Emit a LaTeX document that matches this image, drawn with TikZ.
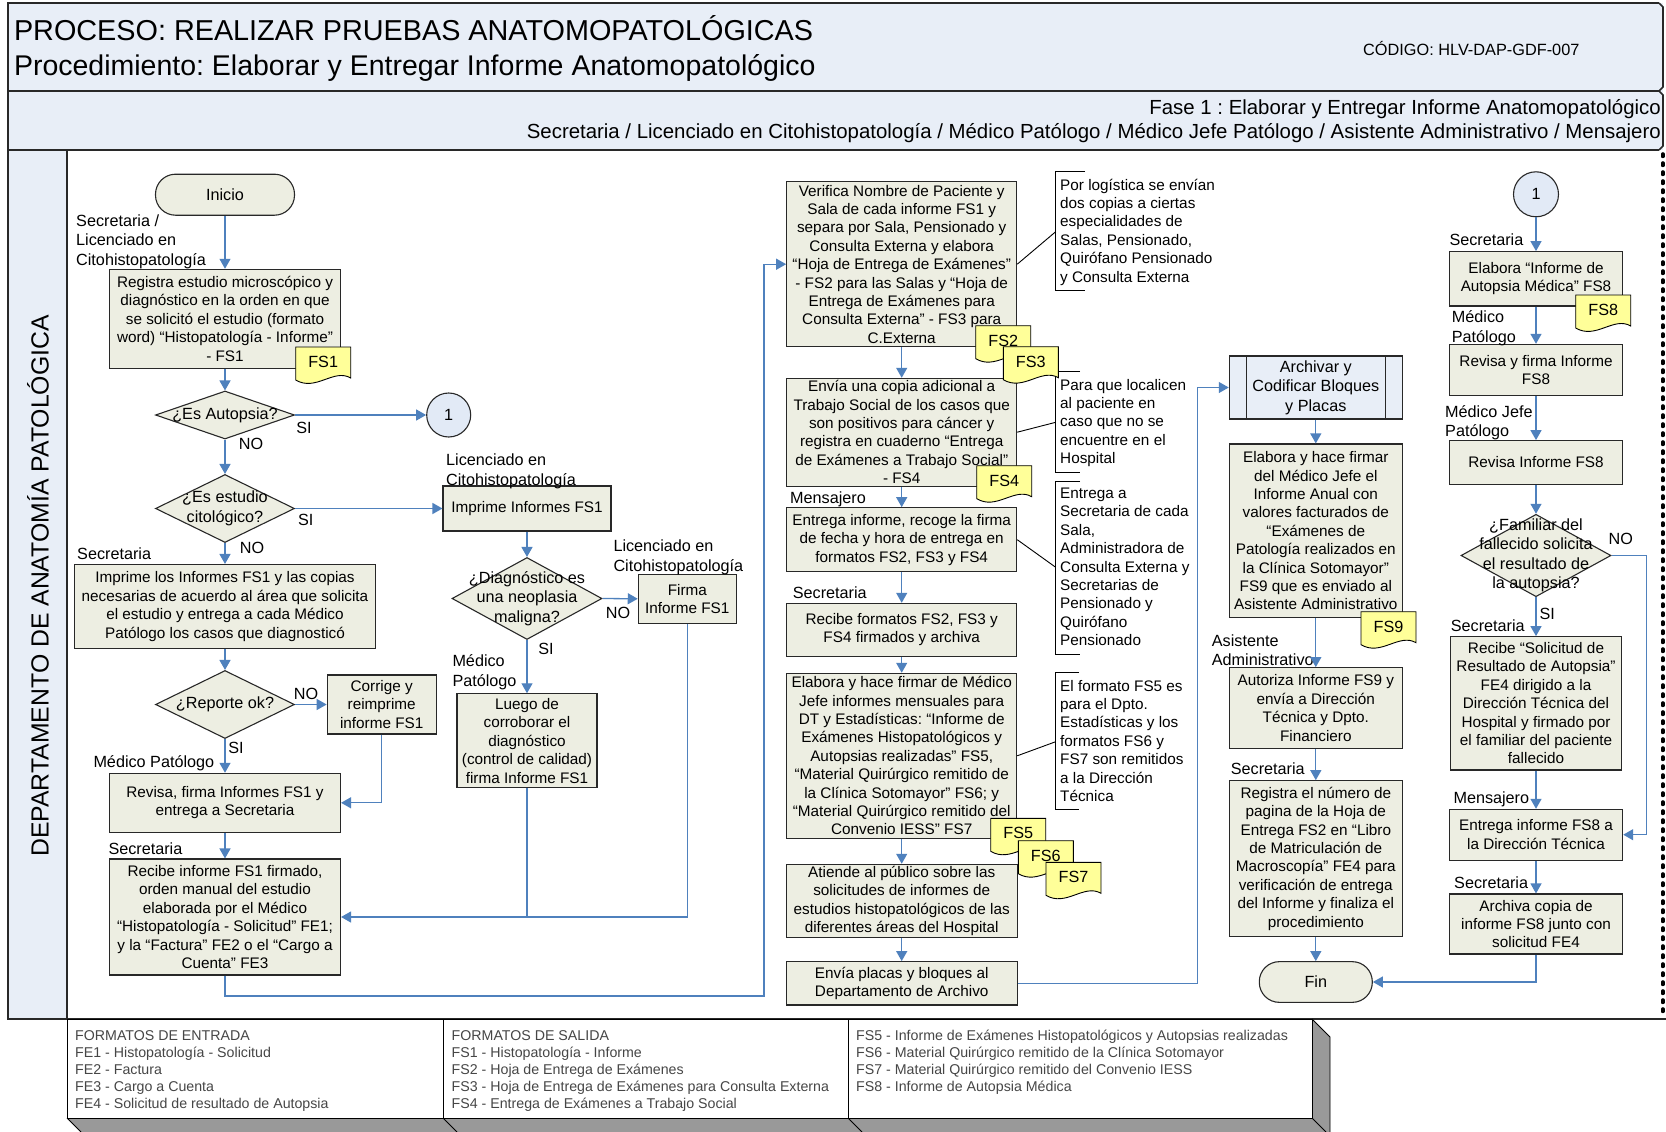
\documentclass[tikz,border=0pt]{standalone}
\usepackage{fontspec}
\setmainfont{Liberation Sans}
\usetikzlibrary{shapes.geometric,arrows.meta,calc}
\frenchspacing

\definecolor{boxfill}{RGB}{237,238,226}
\definecolor{hdrfill}{RGB}{232,238,247}
\definecolor{connfill}{RGB}{226,234,246}
\definecolor{flowblue}{RGB}{79,129,189}
\definecolor{docyellow}{RGB}{255,255,153}
\definecolor{legtext}{RGB}{70,70,70}
\definecolor{legside}{RGB}{153,153,153}
\definecolor{edgegrey}{RGB}{40,40,40}

\newcommand{\fbody}{\fontsize{15.3}{18.4}\selectfont}
\newcommand{\flab}{\fontsize{16.2}{19.5}\selectfont}
\newcommand{\fleg}{\fontsize{14.2}{17}\selectfont}

% document symbol: name, left x, top y, label
\newcommand{\docshape}[4]{%
  \filldraw[docline] (#2,#3) -- ($(#2,#3)+(55,0)$) -- ($(#2,#3)+(55,31)$)
    .. controls ($(#2,#3)+(38,21)$) and ($(#2,#3)+(20,45)$) .. ($(#2,#3)+(0,33)$) -- cycle;
  \node[doctext] (#1) at ($(#2,#3)+(27.5,15)$) {#4};}

\tikzset{
  box/.style={draw=edgegrey, fill=boxfill, line width=1.1pt, align=center, inner sep=0pt, font=\fbody},
  term/.style={box, rounded corners=20pt, font=\flab},
  decision/.style={draw=edgegrey, fill=boxfill, line width=1.1pt, diamond, inner sep=0pt},
  dtext/.style={align=center, font=\flab, inner sep=0pt},
  conncirc/.style={circle, draw=edgegrey, fill=connfill, line width=1.1pt, minimum size=44pt, inner sep=0pt, font=\flab},
  role/.style={anchor=north west, align=left, inner sep=0pt, font=\flab},
  notetxt/.style={anchor=north west, align=left, inner sep=0pt, font=\fbody},
  branch/.style={inner sep=0pt, font=\flab, text height=11.6pt, text depth=0pt},
  flow/.style={draw=flowblue, line width=1.3pt, -{Triangle[length=10pt,width=11pt]}},
  plainflow/.style={draw=flowblue, line width=1.3pt},
  bracket/.style={draw=black, line width=0.9pt},
  docline/.style={draw=black, fill=docyellow, line width=0.9pt},
  doctext/.style={font=\flab, inner sep=0pt},
  legtxt/.style={anchor=north west, align=left, inner sep=0pt, font=\fleg, text=legtext},
  frame/.style={draw=edgegrey, line width=1.6pt},
}

\begin{document}
\begin{tikzpicture}[x=1pt,y=-1pt]
\useasboundingbox (0,0) rectangle (1666,1132);
\fill[white] (0,0) rectangle (1666,1132);

% ---------- header and swimlane frame ----------
\fill[hdrfill] (8,3) rectangle (1663,150);
\fill[hdrfill] (8,150) rectangle (67,1019);
\draw[frame] (1659,3) -- (8,3) -- (8,1019) -- (1666,1019);
\draw[frame] (1659,3) -- (1663,7) -- (1663,87) -- (1659,91);
\draw[frame] (8,91) -- (1659,91) -- (1663,95) -- (1663,146) -- (1659,150);
\draw[frame] (8,150) -- (1659,150);
\draw[frame] (67,150) -- (67,1019);
\draw[line width=3.6pt, dash pattern=on 2.4pt off 6.6pt, line cap=round] (1662.7,154) -- (1662.7,1017);

\node[anchor=base west, inner sep=0pt, font=\fontsize{28.8}{34}\selectfont] (title) at (13.8,40.5) {PROCESO: REALIZAR PRUEBAS ANATOMOPATOLÓGICAS};
\node[anchor=base west, inner sep=0pt, font=\fontsize{28.5}{34}\selectfont] (subtitle) at (13.8,75) {Procedimiento: Elaborar y Entregar Informe Anatomopatológico};
\node[anchor=base west, inner sep=0pt, font=\fontsize{16.3}{19}\selectfont] (code) at (1363,56) {CÓDIGO: HLV-DAP-GDF-007};
\node[anchor=base east, inner sep=0pt, font=\fontsize{20.4}{24}\selectfont] (phase) at (1661,114) {Fase 1 : Elaborar y Entregar Informe Anatomopatológico};
\node[anchor=base east, inner sep=0pt, font=\fontsize{20.4}{24}\selectfont] (actors) at (1661,139) {Secretaria / Licenciado en Citohistopatología / Médico Patólogo / Médico Jefe Patólogo / Asistente Administrativo / Mensajero};
\node[rotate=90, inner sep=0pt, font=\fontsize{24.8}{29}\selectfont] (dept) at (38,586) {DEPARTAMENTO DE ANATOMÍA PATOLÓGICA};

% ---------- first column ----------
\node[term, minimum width=139pt, minimum height=41pt] (inicio) at (225,194.7) {Inicio};
\node[box, minimum width=231pt, minimum height=99pt] (reg) at (225,318.8) {Registra estudio microscópico y\\diagnóstico en la orden en que\\se solicitó el estudio (formato\\word) “Histopatología - Informe”\\- FS1};
\node[decision, minimum width=139pt, minimum height=48pt] (d1) at (225,415) {};
\node[dtext] (d1t) at (d1) {¿Es Autopsia?};
\node[conncirc] (c1) at (448.7,415) {1};
\node[decision, minimum width=139pt, minimum height=68pt] (d2) at (225,508.5) {};
\node[dtext] (d2t) at (d2) {¿Es estudio\\citológico?};
\node[box, minimum width=301pt, minimum height=84pt] (impr) at (225,606.5) {Imprime los Informes FS1 y las copias\\necesarias de acuerdo al área que solicita\\el estudio y entrega a cada Médico\\Patólogo los casos que diagnosticó};
\node[decision, minimum width=139pt, minimum height=68pt] (d3) at (225,704.5) {};
\node[dtext] (d3t) at (d3) {¿Reporte ok?};
\node[box, minimum width=109pt, minimum height=59pt] (corr) at (381.7,704.5) {Corrige y\\reimprime\\informe FS1};
\node[box, minimum width=231pt, minimum height=59pt] (rev) at (225,802.8) {Revisa, firma Informes FS1 y\\entrega a Secretaria};
\node[box, minimum width=231pt, minimum height=116pt] (rec) at (225,917) {Recibe informe FS1 firmado,\\orden manual del estudio\\elaborada por el Médico\\“Histopatología - Solicitud” FE1;\\y la “Factura” FE2 o el “Cargo a\\Cuenta” FE3};

% ---------- second column ----------
\node[box, minimum width=168pt, minimum height=45pt] (impfs) at (527,508.5) {Imprime Informes FS1};
\node[decision, minimum width=150pt, minimum height=82pt] (d4) at (527,598.5) {};
\node[dtext] (d4t) at (d4) {¿Diagnóstico es\\una neoplasia\\maligna?};
\node[box, minimum width=98pt, minimum height=49pt] (firma) at (687.3,598.8) {Firma\\Informe FS1};
\node[box, minimum width=140pt, minimum height=94pt] (luego) at (527,740.8) {Luego de\\corroborar el\\diagnóstico\\(control de calidad)\\firma Informe FS1};

% ---------- third column ----------
\node[box, minimum width=230pt, minimum height=165pt] (ver) at (901.7,264.2) {Verifica Nombre de Paciente y\\Sala de cada informe FS1 y\\separa por Sala, Pensionado y\\Consulta Externa y elabora\\“Hoja de Entrega de Exámenes”\\- FS2 para las Salas y “Hoja de\\Entrega de Exámenes para\\Consulta Externa” - FS3 para\\C.Externa};
\node[box, minimum width=230pt, minimum height=107.7pt] (env) at (901.7,432.2) {Envía una copia adicional a\\Trabajo Social de los casos que\\son positivos para cáncer y\\registra en cuaderno “Entrega\\de Exámenes a Trabajo Social”\\- FS4};
\node[box, minimum width=230pt, minimum height=64pt] (ent) at (901.7,539.7) {Entrega informe, recoge la firma\\de fecha y hora de entrega en\\formatos FS2, FS3 y FS4};
\node[box, minimum width=230pt, minimum height=52.7pt] (recf) at (901.7,629.7) {Recibe formatos FS2, FS3 y\\FS4 firmados y archiva};
\node[box, minimum width=230pt, minimum height=165pt] (elab) at (901.7,755.8) {Elabora y hace firmar de Médico\\Jefe informes mensuales para\\DT y Estadísticas: “Informe de\\Exámenes Histopatológicos y\\Autopsias realizadas” FS5,\\“Material Quirúrgico remitido de\\la Clínica Sotomayor” FS6; y\\“Material Quirúrgico remitido del\\Convenio IESS” FS7};
\node[box, minimum width=231pt, minimum height=73pt] (aten) at (901.7,900.8) {Atiende al público sobre las\\solicitudes de informes de\\estudios histopatológicos de las\\diferentes áreas del Hospital};
\node[box, minimum width=231pt, minimum height=43.3pt] (envp) at (901.7,983.3) {Envía placas y bloques al\\Departamento de Archivo};

% ---------- annotations ----------
\node[notetxt] (n1) at (1060,177.1) {\strut Por logística se envían\\dos copias a ciertas\\especialidades de\\Salas, Pensionado,\\Quirófano Pensionado\\y Consulta Externa};
\node[notetxt] (n2) at (1060,377.1) {\strut Para que localicen\\al paciente en\\caso que no se\\encuentre en el\\Hospital};
\node[notetxt] (n3) at (1060,485.4) {\strut Entrega a\\Secretaria de cada\\Sala,\\Administradora de\\Consulta Externa y\\Secretarias de\\Pensionado y\\Quirófano\\Pensionado};
\node[notetxt] (n4) at (1060,678.1) {\strut El formato FS5 es\\para el Dpto.\\Estadísticas y los\\formatos FS6 y\\FS7 son remitidos\\a la Dirección\\Técnica};
\draw[bracket] (1085,171.7) -- (1055.7,171.7) -- (1055.7,290) -- (1085,290);
\draw[bracket] (1080,371.7) -- (1055.7,371.7) -- (1055.7,472.3) -- (1080,472.3);
\draw[bracket] (1080,481) -- (1055.7,481) -- (1055.7,654.3) -- (1080,654.3);
\draw[bracket] (1079,672.7) -- (1055.7,672.7) -- (1055.7,809.3) -- (1079,809.3);
\coordinate (n1a) at (1055.7,231.7);
\coordinate (n2a) at (1055.7,422.3);
\coordinate (n3a) at (1055.7,567.3);
\coordinate (n4a) at (1055.7,741.7);
\draw[bracket] (ver.east) -- (n1a);
\draw[bracket] (env.east) -- (n2a);
\draw[bracket] (ent.east) -- (n3a);
\draw[bracket] (elab.east) -- (n4a);

% ---------- fourth column ----------
\node[box, fill=hdrfill, font=\flab, minimum width=173pt, minimum height=63pt] (arch) at (1315.8,387.5) {Archivar y\\Codificar Bloques\\y Placas};
\draw[draw=edgegrey, line width=1.1pt] ($(arch.north west)+(17.4,0)$) -- ($(arch.south west)+(17.4,0)$);
\draw[draw=edgegrey, line width=1.1pt] ($(arch.north east)+(-17.3,0)$) -- ($(arch.south east)+(-17.3,0)$);
\node[box, minimum width=173pt, minimum height=173.7pt] (elan) at (1315.8,530.8) {Elabora y hace firmar\\del Médico Jefe el\\Informe Anual con\\valores facturados de\\“Exámenes de\\Patología realizados en\\la Clínica Sotomayor”\\FS9 que es enviado al\\Asistente Administrativo};
\node[box, minimum width=173pt, minimum height=80.7pt] (aut) at (1315.8,708) {Autoriza Informe FS9 y\\envía a Dirección\\Técnica y Dpto.\\Financiero};
\node[box, minimum width=173pt, minimum height=156pt] (regn) at (1315.8,858.7) {Registra el número de\\pagina de la Hoja de\\Entrega FS2 en “Libro\\de Matriculación de\\Macroscopía” FE4 para\\verificación de entrega\\del Informe y finaliza el\\procedimiento};
\node[term, minimum width=113pt, minimum height=40.7pt] (fin) at (1315.8,982) {Fin};

% ---------- fifth column ----------
\node[conncirc, minimum size=45pt] (c2) at (1536,194.3) {1};
\node[box, minimum width=173.3pt, minimum height=54.3pt] (eia) at (1536,278.8) {Elabora “Informe de\\Autopsia Médica” FS8};
\node[box, minimum width=173.3pt, minimum height=51.3pt] (ryf) at (1536,370) {Revisa y firma Informe\\FS8};
\node[box, minimum width=173.3pt, minimum height=43.7pt] (rif) at (1536,462.5) {Revisa Informe FS8};
\node[decision, minimum width=150pt, minimum height=82.4pt] (d5) at (1536,555.5) {};
\node[dtext] (d5t) at (d5) {¿Familiar del\\fallecido solicita\\el resultado de\\la autopsia?};
\node[box, minimum width=171pt, minimum height=133.3pt] (rsol) at (1536,703.3) {Recibe “Solicitud de\\Resultado de Autopsia”\\FE4 dirigido a la\\Dirección Técnica del\\Hospital y firmado por\\el familiar del paciente\\fallecido};
\node[box, minimum width=173.3pt, minimum height=50.7pt] (efs8) at (1536,834.7) {Entrega informe FS8 a\\la Dirección Técnica};
\node[box, minimum width=173.3pt, minimum height=60pt] (arc) at (1536,924) {Archiva copia de\\informe FS8 junto con\\solicitud FE4};

% ---------- document symbols ----------
\docshape{fs1}{295.7}{347}{FS1}
\docshape{fs2}{975.7}{325.7}{FS2}
\docshape{fs3}{1003.3}{346.7}{FS3}
\docshape{fs4}{976.7}{465.7}{FS4}
\docshape{fs5}{990.7}{818.3}{FS5}
\docshape{fs6}{1018.3}{840.7}{FS6}
\docshape{fs7}{1046}{862.3}{FS7}
\docshape{fs8}{1575.7}{295}{FS8}
\docshape{fs9}{1361}{611.7}{FS9}

% ---------- role labels ----------
\node[role] (r1) at (76,212.4) {\strut Secretaria /\\Licenciado en\\Citohistopatología};
\node[role] (r2) at (446,451.7) {\strut Licenciado en\\Citohistopatología};
\node[role] (r3) at (77,545.7) {\strut Secretaria};
\node[role] (r4) at (613.3,537.7) {\strut Licenciado en\\Citohistopatología};
\node[role] (r5) at (452.3,653) {\strut Médico\\Patólogo};
\node[role] (r6) at (93.3,753.4) {\strut Médico Patólogo};
\node[role] (r7) at (108.3,841) {\strut Secretaria};
\node[role] (r8) at (790,489.4) {\strut Mensajero};
\node[role] (r9) at (792.7,585) {\strut Secretaria};
\node[role] (r10) at (1211.7,632.4) {\strut Asistente\\Administrativo};
\node[role] (r11) at (1230.7,761) {\strut Secretaria};
\node[role] (r12) at (1449.3,231.7) {\strut Secretaria};
\node[role] (r13) at (1451.7,309) {\strut Médico\\Patólogo};
\node[role] (r14) at (1445,403.4) {\strut Médico Jefe\\Patólogo};
\node[role] (r15) at (1450.7,617.7) {\strut Secretaria};
\node[role] (r16) at (1453.3,790) {\strut Mensajero};
\node[role] (r17) at (1454,874.4) {\strut Secretaria};

% ---------- connectors ----------
\draw[flow] (inicio) -- (reg);
\draw[flow] (reg) -- (d1);
\draw[flow] (d1.east) -- (c1.west);
\draw[flow] (d1.south) -- (d2.north);
\draw[flow] (d2.east) -- (impfs.west);
\draw[flow] (d2.south) -- (impr.north);
\draw[flow] (impr) -- (d3);
\draw[flow] (d3.east) -- (corr.west);
\draw[flow] (d3.south) -- (rev.north);
\draw[flow] (corr.south) |- (rev.east);
\draw[flow] (rev) -- (rec);
\draw[flow] (impfs) -- (d4);
\draw[flow] (d4.east) -- (firma.west);
\draw[flow] (d4.south) -- (luego.north);
\draw[flow] (firma.south) |- (rec.east);
\draw[plainflow] (luego.south) -- (luego.south |- rec.east);
\coordinate (w1) at (764,996);
\draw[flow] (rec.south) |- (w1) |- (ver.west);
\draw[flow] (ver) -- (env);
\draw[flow] (env) -- (ent);
\draw[flow] (ent) -- (recf);
\draw[flow] (recf) -- (elab);
\draw[flow] (elab) -- (aten);
\draw[flow] (aten) -- (envp);
\coordinate (w2) at (1197.3,983.3);
\draw[flow] (envp.east) -- (w2) |- (arch.west);
\draw[flow] (arch) -- (elan);
\draw[flow] (elan) -- (aut);
\draw[flow] (aut) -- (regn);
\draw[flow] (regn) -- (fin);
\draw[flow] (c2) -- (eia);
\draw[flow] (eia) -- (ryf);
\draw[flow] (ryf) -- (rif);
\draw[flow] (rif) -- (d5);
\draw[flow] (d5.south) -- (rsol.north);
\draw[flow] (rsol) -- (efs8);
\draw[flow] (efs8) -- (arc);
\draw[flow] (arc.south) |- (fin.east);
\coordinate (w3) at (1646.7,555.5);
\draw[flow] (d5.east) -- (w3) |- (efs8.east);

% ---------- branch labels ----------
\node[branch] (b1) at (304,428) {SI};
\node[branch] (b2) at (251,444) {NO};
\node[branch] (b3) at (305.7,520) {SI};
\node[branch] (b4) at (252,548) {NO};
\node[branch] (b5) at (306,694) {NO};
\node[branch] (b6) at (236,748) {SI};
\node[branch] (b7) at (618,612.7) {NO};
\node[branch] (b8) at (546,648.7) {SI};
\node[branch] (b9) at (1620.7,538.3) {NO};
\node[branch] (b10) at (1547.3,613.3) {SI};

% ---------- legend of formats ----------
\fill[legside] (67,1118) -- (1312,1118) -- (1326,1132) -- (81,1132) -- cycle;
\fill[legside] (1312,1019) -- (1330,1037) -- (1330,1132) -- (1326,1132) -- (1312,1118) -- cycle;
\draw[black, line width=0.9pt] (1312,1019) -- (1330,1037) -- (1330,1132);
\draw[black, line width=0.9pt] (1312,1118) -- (1326,1132);
\draw[black, line width=0.9pt] (67,1118) -- (81,1132);
\draw[black, line width=0.9pt] (443,1118) -- (457,1132);
\draw[black, line width=0.9pt] (848,1118) -- (862,1132);
\draw[black, line width=0.9pt] (67,1019) rectangle (1312,1118);
\draw[black, line width=0.9pt] (443,1019) -- (443,1118);
\draw[black, line width=0.9pt] (848,1019) -- (848,1118);
\node[legtxt] (lg1) at (75,1028) {\strut FORMATOS DE ENTRADA\\FE1 - Histopatología - Solicitud\\FE2 - Factura\\FE3 - Cargo a Cuenta\\FE4 - Solicitud de resultado de Autopsia};
\node[legtxt] (lg2) at (451.5,1028) {\strut FORMATOS DE SALIDA\\FS1 - Histopatología - Informe\\FS2 - Hoja de Entrega de Exámenes\\FS3 - Hoja de Entrega de Exámenes para Consulta Externa\\FS4 - Entrega de Exámenes a Trabajo Social};
\node[legtxt] (lg3) at (856,1028) {\strut FS5 - Informe de Exámenes Histopatológicos y Autopsias realizadas\\FS6 - Material Quirúrgico remitido de la Clínica Sotomayor\\FS7 - Material Quirúrgico remitido del Convenio IESS\\FS8 - Informe de Autopsia Médica};
\end{tikzpicture}
\end{document}
